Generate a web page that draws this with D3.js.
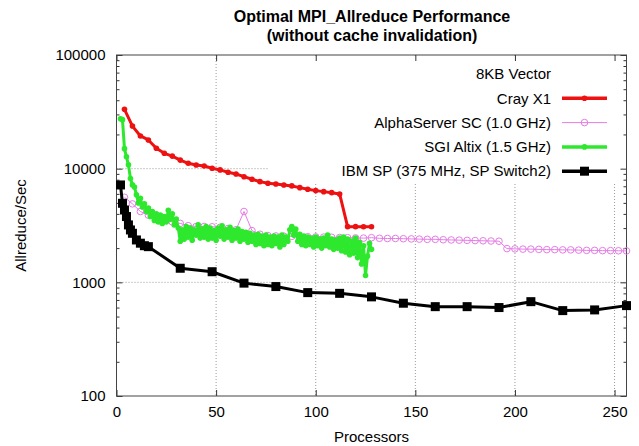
<!DOCTYPE html>
<html>
<head>
<meta charset="utf-8">
<script src="https://cdn.jsdelivr.net/npm/d3@7"></script>
<style>
  body { margin: 0; background: #fff; }
  svg { font-family: "Liberation Sans", Arial, Helvetica, sans-serif; }
</style>
</head>
<body>
<div id="chart"></div>
<script>
// chart values
const titleLines = ["Optimal MPI_Allreduce Performance", "(without cache invalidation)"];
const keyTitle = "8KB Vector";
const seriesNames = ["Cray X1", "AlphaServer SC (1.0 GHz)", "SGI Altix (1.5 GHz)", "IBM SP (375 MHz, SP Switch2)"];
const xTicks = [0, 50, 100, 150, 200, 250];
const yTicks = [100, 1000, 10000, 100000];

const crayProcs = [4, 8, 12, 16, 20, 24, 28, 32, 36, 40, 44, 48, 52, 56, 60, 64,
  68, 72, 76, 80, 84, 88, 92, 96, 100, 104, 108, 112, 116, 120, 124, 128];
const crayVals = [33300, 23700, 19400, 17900, 15100, 13650, 12900, 11900, 11150, 10780, 10560, 10080,
  9750, 9300, 8980, 8500, 8070, 7690, 7440, 7330, 7190, 7050, 6810, 6590, 6410, 6280, 6150, 5990,
  3090, 3090, 3080, 3080];

// alphaserver: every 4 processors, 4..256
const alphaProcs = d3.range(4, 257, 4);
const alphaVals = [5600, 4900, 4200, 3900, 3650, 3500, 3400, 3300, 3150, 3100, 3100, 3080,
  3050, 2980, 2900, 4200, 2850, 2650, 2580, 2560, 2550, 2540, 2530, 2520, 2510, 2500, 2490, 2480,
  2470, 2460, 2450, 2470, 2440, 2430, 2430, 2420, 2410, 2400, 2390, 2390, 2370, 2360, 2350, 2340,
  2330, 2320, 2310, 2300, 1980, 1970, 1960, 1960, 1950, 1940, 1940, 1930, 1930, 1920, 1910, 1910,
  1900, 1900, 1895, 1890];

// altix: every processor, 2..128 (noisy measurements)
const altixProcs = d3.range(2, 129);
const altixVals = [
  27500, 27000, 15000, 12700, 10800, 8200, 7200, 6900, 5900, 5000,
  5500, 4600, 4900, 4200, 4500, 3800, 4200, 3500, 4000, 3400,
  3900, 3300, 3800, 3400, 4300, 3600, 4000, 3200, 3600, 3000,
  2300, 2900, 2400, 3100, 2500, 3000, 2350, 2900, 2600, 3200,
  2450, 2950, 2500, 3100, 2400, 3000, 2450, 2850, 2350, 3000,
  2550, 3150, 2400, 2900, 2500, 3050, 2350, 2850, 2450, 2950,
  2300, 2800, 2400, 2750, 2250, 2700, 2300, 2600, 2150, 2650,
  2200, 2550, 2100, 2600, 2150, 2500, 2100, 2550, 2200, 2500,
  2050, 2600, 2150, 2500, 2300, 2900, 3100, 2600, 2950, 2300,
  2650, 2150, 2550, 2100, 2500, 2150, 2450, 2050, 2500, 2100,
  2400, 2000, 2450, 2100, 2600, 2050, 2400, 1950, 2350, 2000,
  2450, 1900, 2500, 1850, 2400, 1750, 2300, 1800, 2450, 1650,
  2250, 1450, 2100, 1150, 1700, 2200, 1950];

const ibmProcs = [2, 3, 4, 5, 6, 7, 8, 10, 12, 14, 16, 32, 48, 64, 80, 96, 112, 128,
  144, 160, 176, 192, 208, 224, 240, 256];
const ibmVals = [7190, 4960, 4330, 3790, 3200, 2890, 2700, 2360, 2210, 2100, 2060, 1330, 1240, 984,
  918, 812, 800, 745, 655, 611, 611, 600, 676, 564, 572, 624];

const width = 639, height = 446;
const margin = {left: 116.5, right: 12.5, top: 55, bottom: 50};

const svg = d3.select('#chart').append('svg')
  .attr('width', width)
  .attr('height', height);

const xScale = d3.scaleLinear()
  .domain([0, 256])
  .range([margin.left, width - margin.right]);
const yScale = d3.scaleLog()
  .domain([100, 100000])
  .range([height - margin.bottom, margin.top]);

const x0 = xScale.range()[0], x1 = xScale.range()[1];
const yTop = yScale.range()[1], yBot = yScale.range()[0];

// grid
const grid = svg.append('g').attr('class', 'grid')
  .attr('stroke', '#9a9a9a').attr('stroke-width', 1).attr('stroke-dasharray', '1,2');
grid.selectAll('line.vx').data(xTicks.filter(d => d > 0)).enter().append('line')
  .attr('x1', d => xScale(d)).attr('x2', d => xScale(d))
  .attr('y1', yTop).attr('y2', yBot);
grid.selectAll('line.hy').data(yTicks.filter(d => d > 100 && d < 100000)).enter().append('line')
  .attr('x1', x0).attr('x2', x1)
  .attr('y1', d => yScale(d)).attr('y2', d => yScale(d));

// key background hides grid behind it
svg.append('rect')
  .attr('x', 268).attr('y', yTop + 1)
  .attr('width', x1 - 268 - 1).attr('height', 127)
  .attr('fill', '#fff');

// minor log ticks
var minors = [];
for (let dec of [100, 1000, 10000]) {
  for (let m = 2; m <= 9; m++) minors.push(dec * m);
}

function styleAxis(g) {
  g.select('.domain').remove();
  g.selectAll('.tick line').attr('stroke', '#333');
}

svg.append('g')
  .attr('transform', 'translate(' + x0 + ',0)')
  .call(d3.axisLeft(yScale).tickValues(yTicks).tickSize(-6).tickPadding(11).tickFormat(d3.format('d')))
  .call(styleAxis);
svg.append('g')
  .attr('transform', 'translate(' + x0 + ',0)')
  .call(d3.axisLeft(yScale).tickValues(minors).tickSize(-3).tickFormat(''))
  .call(styleAxis);
svg.append('g')
  .attr('transform', 'translate(' + x1 + ',0)')
  .call(d3.axisRight(yScale).tickValues(yTicks).tickSize(-6).tickFormat(''))
  .call(styleAxis);
svg.append('g')
  .attr('transform', 'translate(' + x1 + ',0)')
  .call(d3.axisRight(yScale).tickValues(minors).tickSize(-3).tickFormat(''))
  .call(styleAxis);
svg.append('g')
  .attr('transform', 'translate(0,' + yBot + ')')
  .call(d3.axisBottom(xScale).tickValues(xTicks).tickSize(-6).tickPadding(10))
  .call(styleAxis);
svg.append('g')
  .attr('transform', 'translate(0,' + yTop + ')')
  .call(d3.axisTop(xScale).tickValues(xTicks).tickSize(-6).tickFormat(''))
  .call(styleAxis);

svg.selectAll('.tick text').attr('font-size', 15).attr('fill', '#000')
  .attr('font-family', '"Liberation Sans", Arial, sans-serif');

// border
svg.append('rect')
  .attr('x', x0).attr('y', yTop)
  .attr('width', x1 - x0).attr('height', yBot - yTop)
  .attr('fill', 'none').attr('stroke', '#444').attr('stroke-width', 1);

// series
const series = [
  {name: seriesNames[0], xs: crayProcs, ys: crayVals, color: '#ee1111', width: 3, marker: 'dot', r: 2.8},
  {name: seriesNames[1], xs: alphaProcs, ys: alphaVals, color: '#e67ce6', width: 1, marker: 'ring', r: 3.3},
  {name: seriesNames[2], xs: altixProcs, ys: altixVals, color: '#2ee82e', width: 3, marker: 'dot', r: 2.8},
  {name: seriesNames[3], xs: ibmProcs, ys: ibmVals, color: '#000000', width: 3, marker: 'square', r: 4.5}
];

const line = d3.line().x(d => xScale(d.x)).y(d => yScale(d.y));

function drawMarkers(g, pts, s) {
  if (s.marker === 'square') {
    g.selectAll('rect').data(pts).enter().append('rect')
      .attr('x', d => d.px - s.r).attr('y', d => d.py - s.r)
      .attr('width', s.r * 2).attr('height', s.r * 2)
      .attr('fill', s.color);
  } else {
    g.selectAll('circle').data(pts).enter().append('circle')
      .attr('cx', d => d.px).attr('cy', d => d.py).attr('r', s.r)
      .attr('fill', s.marker === 'ring' ? 'none' : s.color)
      .attr('stroke', s.color).attr('stroke-width', s.marker === 'ring' ? 1 : 0);
  }
}

// draw order: alpha first, then altix, then ibm, cray on top
for (let idx of [1, 2, 3, 0]) {
  let s = series[idx];
  let pts = s.xs.map((x, i) => ({x: x, y: s.ys[i]}));
  let g = svg.append('g').attr('class', 'series');
  g.append('path').datum(pts)
    .attr('d', line)
    .attr('fill', 'none')
    .attr('stroke', s.color)
    .attr('stroke-width', s.width)
    .attr('stroke-linejoin', 'round');
  drawMarkers(g, pts.map(p => ({px: xScale(p.x), py: yScale(p.y)})), s);
}

// key
const key = svg.append('g').attr('class', 'key');
const keyRight = 551, keyY0 = 74, keyStep = 24.3;
key.append('text')
  .attr('x', keyRight).attr('y', keyY0).attr('dy', '0.35em')
  .attr('text-anchor', 'end').attr('font-size', 15).attr('fill', '#000')
  .text(keyTitle);
series.forEach((s, i) => {
  let yy = keyY0 + keyStep * (i + 1);
  key.append('text')
    .attr('x', keyRight).attr('y', yy).attr('dy', '0.35em')
    .attr('text-anchor', 'end').attr('font-size', 15).attr('fill', '#000')
    .text(s.name);
  key.append('line')
    .attr('x1', 562).attr('x2', 607).attr('y1', yy).attr('y2', yy)
    .attr('stroke', s.color).attr('stroke-width', s.width === 3 ? 3.5 : 1);
  let mg = key.append('g');
  drawMarkers(mg, [{px: 584.5, py: yy}], s);
});

// titles
svg.append('text')
  .attr('x', 372).attr('y', 16).attr('dy', '0.35em')
  .attr('text-anchor', 'middle').attr('font-size', 16).attr('font-weight', 'bold').attr('fill', '#000')
  .text(titleLines[0]);
svg.append('text')
  .attr('x', 372).attr('y', 35).attr('dy', '0.35em')
  .attr('text-anchor', 'middle').attr('font-size', 16).attr('font-weight', 'bold').attr('fill', '#000')
  .text(titleLines[1]);

svg.append('text')
  .attr('x', (x0 + x1) / 2).attr('y', 437).attr('dy', '0.35em')
  .attr('text-anchor', 'middle').attr('font-size', 15).attr('fill', '#000')
  .text('Processors');
svg.append('text')
  .attr('transform', 'translate(21,' + (yTop + yBot) / 2 + ') rotate(-90)')
  .attr('dy', '0.35em')
  .attr('text-anchor', 'middle').attr('font-size', 15).attr('fill', '#000')
  .text('Allreduce/Sec');
</script>
</body>
</html>
